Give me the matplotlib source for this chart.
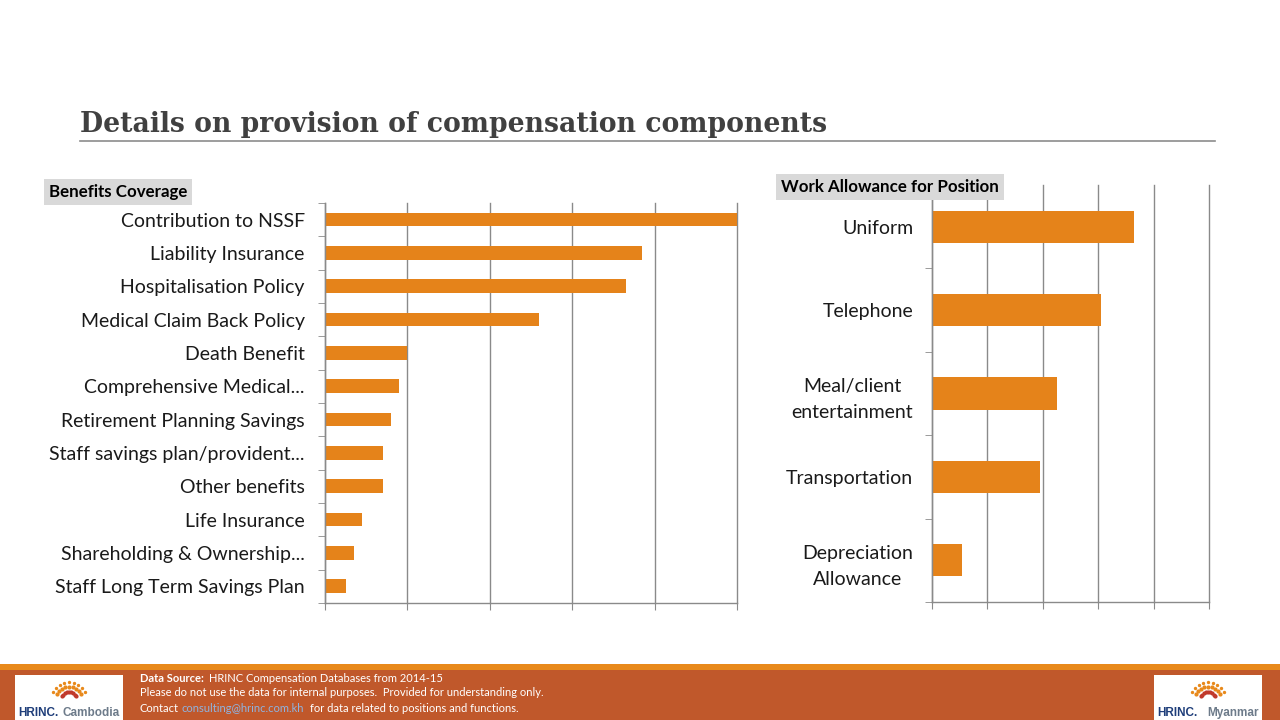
import numpy as np
import matplotlib.pyplot as plt
from matplotlib.patches import Rectangle

# values (share of companies, %)
benefits = ['Contribution to NSSF', 'Liability Insurance', 'Hospitalisation Policy',
            'Medical Claim Back Policy', 'Death Benefit', 'Comprehensive Medical...',
            'Retirement Planning Savings', 'Staff savings plan/provident...',
            'Other benefits', 'Life Insurance', 'Shareholding & Ownership...',
            'Staff Long Term Savings Plan']
benefit_vals = [100, 77, 73, 52, 20, 18, 16, 14, 14, 9, 7, 5]

allowances = ['Uniform', 'Telephone', 'Meal/client\nentertainment',
              'Transportation', 'Depreciation\nAllowance']
allowance_vals = [73, 61, 45, 39, 11]

xticks = [0, 20, 40, 60, 80, 100]

bar_col = '#E5831A'
grid_col = '#8a8a8a'
label_font = ['Lato', 'DejaVu Sans']

fig = plt.figure(figsize=(12.8, 7.2), dpi=100)


def style_axes(ax, n, pad):
    ax.set_xlim(0, 100)
    ax.set_ylim(n - 0.5, -0.5)
    ax.set_xticks(xticks)
    ax.set_xticklabels([])
    ax.set_yticks(np.arange(n))
    ax.set_yticks(np.arange(n + 1) - 0.5, minor=True)
    ax.tick_params(axis='y', which='major', length=0, pad=pad)
    ax.tick_params(axis='y', which='minor', length=5, color=grid_col)
    ax.tick_params(axis='x', length=5, color=grid_col)
    ax.grid(axis='x', color=grid_col, linewidth=1)
    for gl in ax.get_xgridlines():
        gl.set_clip_on(False)
    ax.set_axisbelow(True)
    for s in ['top', 'right']:
        ax.spines[s].set_visible(False)
    for s in ['left', 'bottom']:
        ax.spines[s].set_color(grid_col)
        ax.spines[s].set_linewidth(1)


ax1 = fig.add_axes([0.2539, 0.1625, 0.3219, 0.5556])
y1 = np.arange(len(benefits))
ax1.barh(y1, benefit_vals, height=0.41, color=bar_col)
style_axes(ax1, len(benefits), 14.5)
ax1.set_yticklabels(benefits, fontsize=14, family=label_font, color='#1a1a1a')

ax2 = fig.add_axes([0.7281, 0.1639, 0.2164, 0.5792])
y2 = np.arange(len(allowances))
ax2.barh(y2, allowance_vals, height=0.385, color=bar_col)
style_axes(ax2, len(allowances), 13.5)
ax2.set_yticklabels(allowances, fontsize=14, family=label_font, color='#1a1a1a',
                    multialignment='center', linespacing=1.65)

# title and rule
fig.text(80 / 1280, 1 - 124 / 720, 'Details on provision of compensation components',
         family='DejaVu Serif', weight='bold', fontsize=19.2, color='#404040', va='center')
fig.add_artist(plt.Line2D([80 / 1280, 1215 / 1280], [1 - 141 / 720, 1 - 141 / 720],
                          color='#8c8c8c', linewidth=1.2))

# panel headings
fig.text(49 / 1280, 1 - 192 / 720, 'Benefits Coverage', fontsize=12.2, weight='bold',
         family=label_font, va='center',
         bbox=dict(boxstyle='square,pad=0.28', fc='#d9d9d9', ec='none'))
fig.text(781 / 1280, 1 - 187 / 720, 'Work Allowance for Position', fontsize=12.2,
         weight='bold', family=label_font, va='center',
         bbox=dict(boxstyle='square,pad=0.28', fc='#d9d9d9', ec='none'))

# footer band
fig.add_artist(Rectangle((0, 0), 1, 50 / 720, transform=fig.transFigure,
                         fc='#C0582B', ec='none'))
fig.add_artist(Rectangle((0, 50 / 720), 1, 6 / 720, transform=fig.transFigure,
                         fc='#E8891B', ec='none'))

for x0, name in [(15, 'Cambodia'), (1154, 'Myanmar')]:
    fig.add_artist(Rectangle((x0 / 1280, 0), 108 / 1280, 45 / 720,
                             transform=fig.transFigure, fc='white', ec='none'))
    cx = (x0 + 54) / 1280
    ang = np.linspace(np.pi * 0.15, np.pi * 0.85, 9)
    for r in [8, 13, 18]:
        xs = cx + r * np.cos(ang) / 1280
        ys = (20 + r * np.sin(ang)) / 720
        fig.add_artist(plt.Line2D(xs, ys, linestyle='none', marker='o',
                                  markersize=2.0 if r < 18 else 1.4,
                                  color='#E8891B' if r > 8 else '#C0392B',
                                  transform=fig.transFigure))
    fig.text((x0 + 3) / 1280, 7 / 720, 'HRINC.', ha='left', va='center', fontsize=8.5,
             weight='bold', color='#1F3E7A', family='Liberation Sans')
    fig.text((x0 + 105) / 1280, 7 / 720, name, ha='right', va='center', fontsize=8.5,
             weight='bold', color='#6d7b8a', family='Liberation Sans')

fx = 140 / 1280
fs = 8
fig.text(fx, 1 - 678 / 720, 'Data Source:', color='white', fontsize=fs, weight='bold',
         family=label_font, va='center')
fig.text(209 / 1280, 1 - 678 / 720, 'HRINC Compensation Databases from 2014-15',
         color='white', fontsize=fs, family=label_font, va='center')
fig.text(fx, 1 - 693 / 720,
         'Please do not use the data for internal purposes.  Provided for understanding only.',
         color='white', fontsize=fs, family=label_font, va='center')
fig.text(fx, 1 - 708 / 720, 'Contact', color='white', fontsize=fs, family=label_font,
         va='center')
fig.text(182 / 1280, 1 - 708 / 720, 'consulting@hrinc.com.kh', color='#8fb3e0',
         fontsize=fs, family=label_font, va='center')
fig.text(310 / 1280, 1 - 708 / 720, 'for data related to positions and functions.',
         color='white', fontsize=fs, family=label_font, va='center')

fig.savefig('out.png', dpi=100)
